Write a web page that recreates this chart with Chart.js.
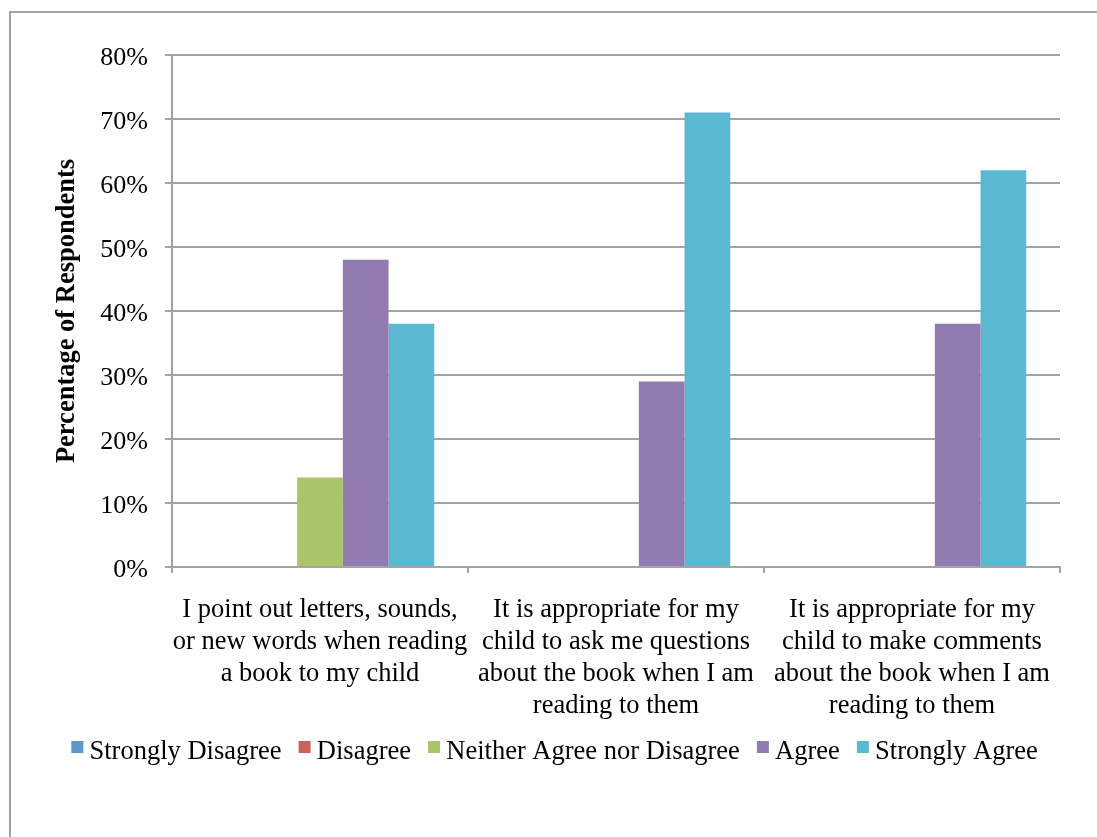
<!DOCTYPE html>
<html>
<head>
<meta charset="utf-8">
<script src="https://cdn.jsdelivr.net/npm/chart.js@4/dist/chart.umd.min.js"></script>
<style>
  html, body { margin: 0; padding: 0; background: #fff; overflow: hidden; width: 1097px; height: 837px; }
  #frame { position: absolute; left: 9px; top: 11px; width: 2000px; height: 2000px; border: 2px solid #a3a3a3; }
  #c { position: absolute; left: 0; top: 0; }
</style>
</head>
<body>
<div id="frame"></div>
<canvas id="c" width="1097" height="837"></canvas>
<script>
const categories = [
  ["I point out letters, sounds,", "or new words when reading", "a book to my child"],
  ["It is appropriate for my", "child to ask me questions", "about the book when I am", "reading to them"],
  ["It is appropriate for my", "child to make comments", "about the book when I am", "reading to them"]
];
const seriesNames = ["Strongly Disagree", "Disagree", "Neither Agree nor Disagree", "Agree", "Strongly Agree"];
const stronglyDisagree = [0, 0, 0];
const disagree = [0, 0, 0];
const neither = [14, 0, 0];
const agree = [48, 29, 38];
const stronglyAgree = [38, 71, 62];
const colors = ["#6096cb", "#cc625c", "#a9c46b", "#927bb0", "#5bb8d1"];
const yTicks = [0, 10, 20, 30, 40, 50, 60, 70, 80];

const seriesValues = [stronglyDisagree, disagree, neither, agree, stronglyAgree];
const FONT = "'Liberation Serif', 'Times New Roman', serif";
const GRID = "#a3a3a3";

// legend swatch: 12x12 square in the upper right part of a 30x22 image
function swatch(color) {
  const cv = document.createElement('canvas');
  cv.width = 30; cv.height = 22;
  const g = cv.getContext('2d');
  g.fillStyle = color;
  g.fillRect(17, 0, 12, 12);
  return cv;
}

const legendShift = {
  id: 'legendShift',
  afterLayout(chart) {
    const lg = chart.legend;
    if (lg) { lg.left += 20; lg.right += 20; }
  }
};

new Chart(document.getElementById('c'), {
  type: 'bar',
  plugins: [legendShift],
  data: {
    labels: categories,
    datasets: seriesNames.map((n, i) => ({
      label: n,
      data: seriesValues[i],
      backgroundColor: colors[i],
      borderWidth: 0,
      pointStyle: swatch(colors[i]),
      categoryPercentage: 0.772,
      barPercentage: 1.0
    }))
  },
  options: {
    responsive: false,
    devicePixelRatio: 1,
    animation: false,
    layout: { padding: { left: 0, top: 55, right: 37, bottom: 61.75 } },
    plugins: {
      tooltip: { enabled: false },
      legend: {
        position: 'bottom',
        labels: {
          font: { family: FONT, size: 26.5 },
          color: '#000',
          usePointStyle: true,
          pointStyleWidth: 14,
          boxHeight: 12,
          padding: 8
        }
      }
    },
    scales: {
      x: {
        afterFit: s => { s.height = 163.75; },
        grid: { drawOnChartArea: false, drawTicks: true, tickLength: 6, color: GRID, lineWidth: 2 },
        border: { color: GRID, width: 2 },
        ticks: {
          font: { family: FONT, size: 26.5, lineHeight: 1.2075 },
          color: '#000',
          padding: 21,
          maxRotation: 0,
          autoSkip: false
        }
      },
      y: {
        min: 0,
        max: 80,
        afterFit: s => { s.width = 172; },
        afterBuildTicks: s => { s.ticks = yTicks.map(v => ({ value: v })); },
        grid: { color: GRID, lineWidth: 2, tickLength: 7 },
        border: { color: GRID, width: 2 },
        ticks: {
          font: { family: FONT, size: 26 },
          color: '#000',
          padding: 17,
          labelOffset: 3,
          callback: v => v + '%'
        },
        title: {
          display: true,
          text: 'Percentage of Respondents',
          font: { family: FONT, size: 26.5, weight: 'bold' },
          color: '#000',
          padding: { top: 51, bottom: 0 }
        }
      }
    }
  }
});
</script>
</body>
</html>
